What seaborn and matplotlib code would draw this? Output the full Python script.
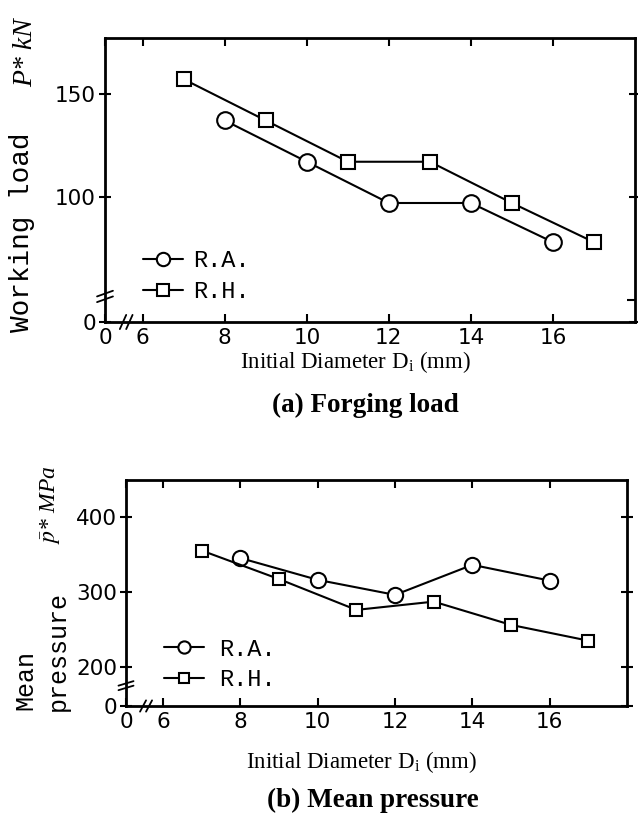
import matplotlib
matplotlib.use("Agg")
import matplotlib.pyplot as plt
import seaborn as sns
import pandas as pd

sns.set_style("white")
plt.rcParams['font.family'] = ['DejaVu Sans']
plt.rcParams['mathtext.fontset'] = 'stix'
for k in ['text.color', 'axes.labelcolor', 'xtick.color', 'ytick.color', 'axes.edgecolor']:
    plt.rcParams[k] = 'black'

# ---- data ----
x_ra = [8, 10, 12, 14, 16]
x_rh = [7, 9, 11, 13, 15, 17]
load_ra = [137, 117, 97, 97, 78]
load_rh = [157, 137, 117, 117, 97, 78]
pres_ra = [345, 316, 296, 336, 315]
pres_rh = [355, 317, 276, 287, 256, 235]
x_ticks = [6, 8, 10, 12, 14, 16]
load_ticks = [100, 150]
pres_ticks = [200, 300, 400]
legend_labels = ["R.A.", "R.H."]

W, H = 638, 815
fig = plt.figure(figsize=(W / 100, H / 100), dpi=100)

def px_axes(l, t, r, b):
    return fig.add_axes([l / W, 1 - b / H, (r - l) / W, (b - t) / H])

ax1 = px_axes(105, 38, 635, 322)
ax2 = px_axes(126, 480, 627, 706)

mono = 'Liberation Mono'

def style_ax(ax, xmin, ymin, ymax, yticks, right_minor=None, mk=(11, 9.5), ra=None, rh=None):
    df_ra = pd.DataFrame({'x': x_ra, 'y': ra})
    df_rh = pd.DataFrame({'x': x_rh, 'y': rh})
    sns.lineplot(data=df_ra, x='x', y='y', ax=ax, color='black', lw=1.5,
                 marker='o', markersize=mk[0], markerfacecolor='white',
                 markeredgecolor='black', markeredgewidth=1.5, label=legend_labels[0])
    sns.lineplot(data=df_rh, x='x', y='y', ax=ax, color='black', lw=1.5,
                 marker='s', markersize=mk[1], markerfacecolor='white',
                 markeredgecolor='black', markeredgewidth=1.5, label=legend_labels[1])
    ax.set_xlim(xmin, 18)
    ax.set_ylim(ymin, ymax)
    ax.set_xticks([xmin] + x_ticks)
    ax.set_xticklabels(['0'] + [str(t) for t in x_ticks])
    ax.set_yticks([ymin] + yticks)
    ax.set_yticklabels(['0'] + [str(t) for t in yticks])
    if right_minor:
        ax.set_yticks(right_minor, minor=True)
        ax.tick_params(axis='y', which='minor', left=False, right=True,
                       direction='in', length=6, width=1.5)
    ax.tick_params(axis='x', which='major', direction='in', top=True, bottom=True,
                   length=6, width=1.5, labelsize=15.5, pad=4)
    ax.tick_params(axis='y', which='major', direction='inout', left=True, right=True,
                   length=9, width=1.5, labelsize=15.5, pad=2)
    for s in ax.spines.values():
        s.set_linewidth(2)
        s.set_color('black')
    ax.set_xlabel('')
    ax.set_ylabel('')
    # axis break marks
    for dx in (0.0, 0.012):
        ax.plot([0.028 + dx, 0.040 + dx], [-0.025, 0.025], transform=ax.transAxes,
                color='black', lw=1.3, clip_on=False)
    for dy in (0.0, 0.02):
        ax.plot([-0.015, 0.015], [0.07 + dy, 0.09 + dy], transform=ax.transAxes,
                color='black', lw=1.3, clip_on=False)

style_ax(ax1, 5.08, 39.3, 177, load_ticks, right_minor=[50], mk=(12, 10),
         ra=load_ra, rh=load_rh)
style_ax(ax2, 5.04, 148, 449, pres_ticks, mk=(11, 8.5), ra=pres_ra, rh=pres_rh)

ax1.legend(loc='lower left', bbox_to_anchor=(0.05, 0.025), frameon=False,
           prop={'family': mono, 'size': 17}, handlelength=1.7, markerscale=0.8,
           handletextpad=0.4, labelspacing=0.35, borderpad=0)
ax2.legend(loc='lower left', bbox_to_anchor=(0.052, 0.015), frameon=False,
           prop={'family': mono, 'size': 17}, handlelength=1.7, markerscale=0.8,
           handletextpad=0.65, labelspacing=0.3, borderpad=0)

# y labels
fig.text(22 / W, 1 - 232 / H, 'Working load', rotation=90, ha='center', va='center',
         family=mono, fontsize=20)
fig.text(26 / W, 1 - 53 / H, 'P* kN', rotation=90, ha='center', va='center',
         family='Liberation Serif', style='italic', fontsize=20)
fig.text(25 / W, 1 - 680 / H, 'Mean', rotation=90, ha='center', va='center',
         family=mono, fontsize=18)
fig.text(58 / W, 1 - 651 / H, 'pressure', rotation=90, ha='center', va='center',
         family=mono, fontsize=18)
fig.text(50 / W, 1 - 505 / H, r'$\bar{p}$* MPa', rotation=90, ha='center', va='center',
         family='Liberation Serif', style='italic', fontsize=17)

# x labels and titles
serif = 'Liberation Serif'
fig.text(356 / W, 1 - 362 / H, 'Initial Diameter D$_\\mathregular{i}$ (mm)',
         ha='center', va='center', family=serif, fontsize=16.5)
fig.text(365 / W, 1 - 405 / H, '(a) Forging load', ha='center', va='center',
         family=serif, fontsize=19.5, weight='bold')
fig.text(362 / W, 1 - 762 / H, 'Initial Diameter D$_\\mathregular{i}$ (mm)',
         ha='center', va='center', family=serif, fontsize=16.5)
fig.text(373 / W, 1 - 800 / H, '(b) Mean pressure', ha='center', va='center',
         family=serif, fontsize=19.5, weight='bold')

fig.savefig('out.png', dpi=100)
